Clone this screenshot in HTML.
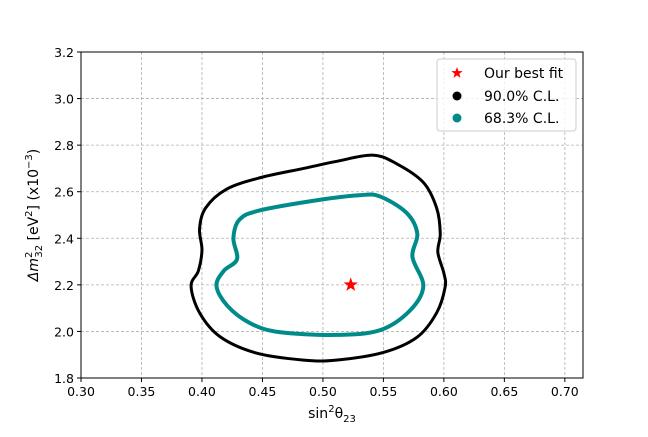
<!DOCTYPE html>
<html><head><meta charset="utf-8"><style>
body{margin:0;background:#fff}
svg text{font-family:"DejaVu Sans","Liberation Sans",sans-serif;fill:#000}
</style></head><body>
<svg id="chart" width="648" height="432" viewBox="0 0 648 432" xmlns="http://www.w3.org/2000/svg">
<rect width="648" height="432" fill="#fff"/>
<g id="grid"></g>
<g id="series"></g>
<rect x="81" y="52" width="502" height="326" fill="none" stroke="#000" stroke-width="1"/>
<g id="ticks"></g>
<text x="332" y="418" font-size="14" text-anchor="middle">sin<tspan font-size="10" dy="-6">2</tspan><tspan dy="6">θ</tspan><tspan font-size="10" dy="4">23</tspan></text>
<text transform="translate(38,215) rotate(-90)" font-size="14" text-anchor="middle"><tspan font-style="italic">Δm</tspan><tspan font-size="10" dy="-6">2</tspan><tspan font-size="10" dx="-6" dy="10">32</tspan><tspan dy="-4"> [eV</tspan><tspan font-size="10" dy="-6">2</tspan><tspan dy="6">] (x10</tspan><tspan font-size="10" dy="-6">−3</tspan><tspan dy="6">)</tspan></text>
<g>
<rect x="437" y="59" width="139" height="72" rx="3" fill="#fff" fill-opacity="0.8" stroke="#ccc"/>
<g><polygon id="lstar" fill="#f00"/><text x="484" y="78" font-size="14">Our best fit</text></g>
<g><circle cx="457" cy="96" r="4.5" fill="#000"/><text x="484" y="101" font-size="14">90.0% C.L.</text></g>
<g><circle cx="457" cy="118" r="4.5" fill="#008b8b"/><text x="484" y="123" font-size="14">68.3% C.L.</text></g>
</g>
</svg>
<script>
const xTicks=[0.30,0.35,0.40,0.45,0.50,0.55,0.60,0.65,0.70];
const yTicks=[1.8,2.0,2.2,2.4,2.6,2.8,3.0,3.2];
const bestFit=[0.523,2.2];
const outerX=[0.391,0.397,0.400,0.398,0.403,0.420,0.448,0.484,0.511,0.541,0.561,0.583,0.594,0.597,0.595,0.600,0.601,0.594,0.578,0.550,0.511,0.484,0.445,0.415,0.398];
const outerY=[2.195,2.26,2.35,2.44,2.53,2.61,2.66,2.70,2.73,2.757,2.72,2.64,2.53,2.42,2.34,2.25,2.19,2.08,1.976,1.91,1.877,1.877,1.907,1.977,2.08];
const innerX=[0.412,0.418,0.429,0.426,0.431,0.448,0.497,0.530,0.547,0.569,0.578,0.574,0.583,0.572,0.547,0.511,0.464,0.440,0.421];
const innerY=[2.195,2.26,2.31,2.40,2.48,2.52,2.565,2.585,2.58,2.51,2.42,2.32,2.195,2.09,2.005,1.985,1.997,2.035,2.11];
const X0=81,X1=583,Y0=378,Y1=52,xmin=0.30,xmax=0.715,ymin=1.8,ymax=3.2;
const sx=v=>X0+(v-xmin)/(xmax-xmin)*(X1-X0);
const sy=v=>Y0-(v-ymin)/(ymax-ymin)*(Y0-Y1);
const NS='http://www.w3.org/2000/svg';
function mk(tag,attrs,parent){const e=document.createElementNS(NS,tag);for(const k in attrs)e.setAttribute(k,attrs[k]);parent.appendChild(e);return e;}
const grid=document.getElementById('grid'),ticks=document.getElementById('ticks'),series=document.getElementById('series');
xTicks.forEach(t=>{const x=sx(t);
 const g=mk('line',{x1:x,x2:x,y1:Y1,y2:Y0,stroke:'#b0b0b0','stroke-dasharray':'3,2','stroke-width':0.8},grid);
 
 
 const tk=mk('line',{x1:x,x2:x,y1:Y0,y2:Y0+4,stroke:'#000'},ticks);
 
 
 const tx=mk('text',{x:x,y:Y0+18,'font-size':12.5,'text-anchor':'middle'},ticks);tx.textContent=t.toFixed(2);
 
 
});
yTicks.forEach(t=>{const y=sy(t);
 const g=mk('line',{x1:X0,x2:X1,y1:y,y2:y,stroke:'#b0b0b0','stroke-dasharray':'3,2','stroke-width':0.8},grid);
 
 
 const tk=mk('line',{x1:X0-4,x2:X0,y1:y,y2:y,stroke:'#000'},ticks);
 
 
 const tx=mk('text',{x:X0-7,y:y+5,'font-size':12.5,'text-anchor':'end'},ticks);tx.textContent=t.toFixed(1);
 
 
});
function closedPath(xs,ys){const p=xs.map((v,i)=>[sx(v),sy(ys[i])]);const n=p.length;let d='M'+p[0][0]+','+p[0][1];
 for(let i=0;i<n;i++){const p0=p[(i-1+n)%n],p1=p[i],p2=p[(i+1)%n],p3=p[(i+2)%n];
  const c1=[p1[0]+(p2[0]-p0[0])/6,p1[1]+(p2[1]-p0[1])/6],c2=[p2[0]-(p3[0]-p1[0])/6,p2[1]-(p3[1]-p1[1])/6];
  d+=' C'+c1+' '+c2+' '+p2;}
 return d+'Z';}
const o=mk('path',{d:closedPath(outerX,outerY),fill:'none',stroke:'#000','stroke-width':3},series);


const inn=mk('path',{d:closedPath(innerX,innerY),fill:'none',stroke:'#008b8b','stroke-width':4},series);


function star(cx,cy,R){const r=R*0.4;let pts=[];for(let i=0;i<10;i++){const a=-Math.PI/2+i*Math.PI/5,rr=i%2?r:R;pts.push((cx+rr*Math.cos(a)).toFixed(1)+','+(cy+rr*Math.sin(a)).toFixed(1));}return pts.join(' ');}
const s=mk('polygon',{points:star(sx(bestFit[0]),sy(bestFit[1]),7.5),fill:'#f00'},series);


document.getElementById('lstar').setAttribute('points',star(457,73,6));
</script>
</body></html>
